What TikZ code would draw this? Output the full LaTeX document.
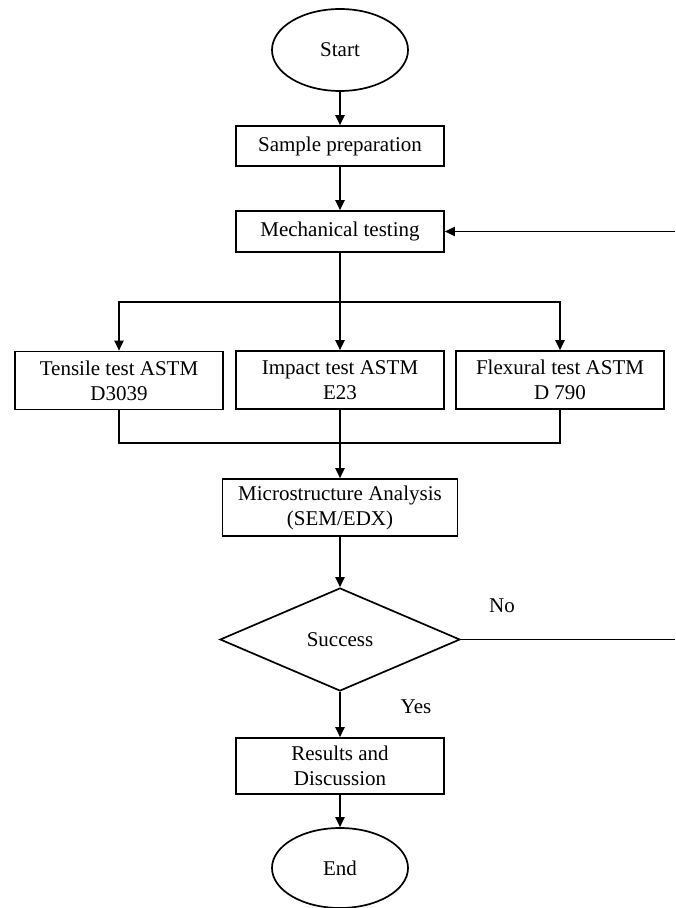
\documentclass[tikz,border=0pt]{standalone}
\usepackage{fontspec}
\setmainfont{Liberation Serif}
\usetikzlibrary{shapes.geometric,arrows.meta}
\tikzset{
  box/.style={draw, rectangle, minimum width=104pt, minimum height=29pt, align=center, inner sep=1pt},
  term/.style={draw, ellipse, minimum width=68pt, minimum height=41pt, inner sep=0pt},
  decision/.style={draw, diamond, minimum width=120pt, minimum height=51.5pt, inner sep=0pt},
  flow/.style={-{Triangle[length=5pt,width=4.6pt]}},
  lbl/.style={inner sep=0pt},
}

\begin{document}
\begin{tikzpicture}[x=0.5pt,y=-0.5pt,line width=0.85pt,
    font=\fontsize{10.5}{12.5}\selectfont]
        \useasboundingbox (0,0) rectangle (675,908);

        % main column
        \node[term] (start) at (340,50) {Start};
        \node[box, minimum height=20pt] (prep) at (340,146) {Sample preparation};
        \node[box, minimum height=20.5pt] (mech) at (340,231.5) {Mechanical testing};

        % the three tests
        \node[box] (tensile) at (119,380.5) {Tensile test ASTM\\D3039};
        \node[box] (impact) at (340,380) {Impact test ASTM\\E23};
        \node[box] (flex) at (560,380) {Flexural test ASTM\\D 790};

        \node[box, minimum width=117.5pt, minimum height=28.5pt] (micro) at (340,507.5) {Microstructure Analysis\\(SEM/EDX)};
        \node[decision] (dec) at (340,639.5) {Success};
        \node[box, minimum height=28pt] (res) at (340,766) {Results and\\Discussion};
        \node[term, minimum height=40pt] (end) at (340,868) {End};

        % labels
        \node[lbl] (no) at (502,606) {No};
        \node[lbl] (yes) at (416,707) {Yes};

        % helper points
        \coordinate (split) at (340,302);
        \coordinate (join) at (340,443);
        \coordinate (edgeR) at (675,639.5);
        \coordinate (edgeT) at (675,231.5);

        % connectors
        \draw[flow] (start) -- (prep);
        \draw[flow] (prep) -- (mech);
        \draw[flow] (mech) -- (impact);
        \draw[flow] (split) -| (tensile);
        \draw[flow] (split) -| (flex);
        \draw (tensile) |- (join);
        \draw (flex) |- (join);
        \draw[flow] (impact) -- (micro);
        \draw[flow] (micro) -- (dec);
        \draw[flow] (dec) -- (res);
        \draw[flow] (res) -- (end);

        % loop back
        \draw (dec.east) -- (edgeR);
        \draw[flow] (edgeT) -- (mech);
\end{tikzpicture}
\end{document}
